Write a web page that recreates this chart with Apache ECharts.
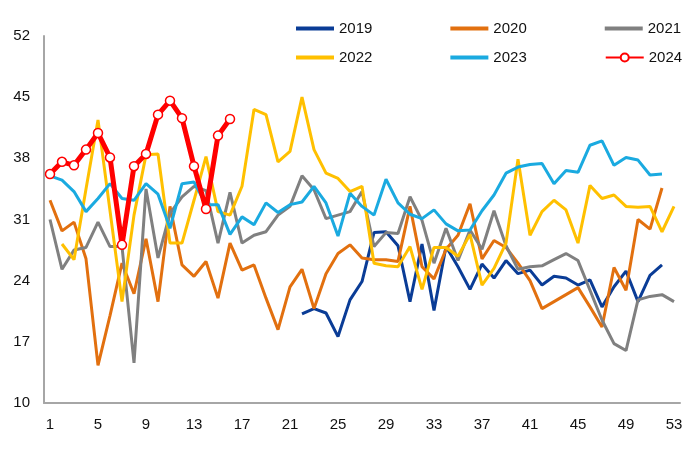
<!DOCTYPE html>
<html>
<head>
<meta charset="utf-8">
<script src="https://cdn.jsdelivr.net/npm/echarts@6/dist/echarts.min.js"></script>
<style>
html,body{margin:0;padding:0;background:#fff;}
#chart{width:700px;height:467px;}
</style>
</head>
<body>
<div id="chart"></div>
<script>
const weeks = Array.from({length: 53}, (_, i) => String(i + 1));
const yTicks = [10, 17, 24, 31, 38, 45, 52];
const seriesNames = ['2019', '2020', '2021', '2022', '2023', '2024'];

const s2019 = [null,null,null,null,null,null,null,null,null,null,
  null,null,null,null,null,null,null,null,null,null,
  null,20.2,20.8,20.3,17.6,21.8,23.9,29.5,29.6,28.0,
  21.6,28.2,20.6,27.9,25.6,23.0,25.9,24.3,26.3,24.8,
  25.2,23.5,24.5,24.3,23.5,24.1,21.0,23.3,25.1,21.6,
  24.6,25.8,null];
const s2020 = [33.2,29.7,30.7,26.5,14.3,20.0,26.0,22.5,28.8,21.6,
  32.5,25.8,24.5,26.2,22.0,28.3,25.2,25.8,22.0,18.4,
  23.3,25.3,20.8,24.8,27.1,28.1,26.6,26.4,26.4,26.2,
  32.5,25.6,24.2,27.6,29.2,32.8,26.5,28.6,27.8,26.0,
  24.0,20.8,21.6,22.4,23.2,21.0,18.7,25.5,22.9,31.0,
  29.9,34.6,null];
const s2021 = [31.0,25.3,27.5,27.8,30.7,27.9,27.9,14.6,34.5,26.6,
  31.7,33.6,34.8,34.3,28.3,34.1,28.3,29.2,29.6,31.5,
  32.5,36.0,34.4,31.1,31.5,31.9,34.2,27.9,29.5,29.4,
  33.6,30.9,26.0,30.0,26.3,29.8,27.6,32.0,28.0,25.3,
  25.6,25.7,26.4,27.1,26.3,22.9,19.5,16.8,16.0,21.8,
  22.2,22.4,21.6];
const s2022 = [null,28.2,26.4,34.5,42.4,32.0,21.6,31.5,38.4,38.5,
  28.3,28.3,33.2,38.2,31.9,31.5,34.8,43.6,43.0,37.6,
  38.8,45.0,39.0,36.3,35.7,34.2,34.8,26.0,25.7,25.6,
  27.9,23.0,27.8,27.8,26.8,29.3,23.5,25.4,28.3,37.9,
  29.2,31.9,33.2,32.1,28.3,34.9,33.4,33.8,32.5,32.4,
  32.5,29.6,32.5];
const s2023 = [36.0,35.5,34.2,31.9,33.4,35.1,33.4,33.2,35.1,33.9,
  30.0,35.1,35.3,32.7,32.7,29.3,31.3,30.4,32.9,31.8,
  32.7,33.0,34.8,32.9,29.1,34.0,32.5,31.5,35.6,32.9,
  31.6,31.1,32.1,30.5,29.7,29.8,32.0,33.8,36.3,37.0,
  37.3,37.4,35.1,36.6,36.4,39.5,40.0,37.2,38.1,37.8,
  36.1,36.2,null];
const s2024 = [36.2,37.6,37.2,39.0,40.9,38.1,28.1,37.1,38.5,43.0,
  44.6,42.6,37.1,32.2,40.6,42.5];

const colors = {
  '2019': '#0A3C96',
  '2020': '#E2700F',
  '2021': '#808080',
  '2022': '#FFC000',
  '2023': '#1AAAE0',
  '2024': '#FF0000'
};
const dataMap = {'2019': s2019, '2020': s2020, '2021': s2021, '2022': s2022, '2023': s2023, '2024': s2024};

const FONT = 'Liberation Sans';
const LINE_ICON = 'path://M0,5H38V9H0Z';

const series = seriesNames.map(name => {
  const is24 = name === '2024';
  return {
    name: name,
    type: 'line',
    data: dataMap[name],
    z: is24 ? 10 : 2,
    smooth: false,
    connectNulls: false,
    symbol: is24 ? 'circle' : 'none',
    symbolSize: is24 ? 9 : 0,
    showSymbol: is24,
    showAllSymbol: true,
    lineStyle: {color: colors[name], width: is24 ? 5 : 3},
    itemStyle: is24 ? {color: '#ffffff', borderColor: colors[name], borderWidth: 1.5} : {color: colors[name]},
    emphasis: {disabled: true},
    animation: false
  };
});

function legendItem(name) {
  if (name === '2024') return {name: name};
  return {name: name, icon: LINE_ICON, itemStyle: {color: colors[name]}};
}

const legendCommon = {
  itemWidth: 38,
  itemHeight: 10,
  itemGap: 78,
  symbolKeepAspect: true,
  textStyle: {fontFamily: FONT, fontSize: 15, color: '#111'},
  selectedMode: false,
  left: 291
};

const chart = echarts.init(document.getElementById('chart'), null, {renderer: 'canvas'});
chart.setOption({
  animation: false,
  backgroundColor: '#ffffff',
  legend: [
    Object.assign({}, legendCommon, {top: 16, data: ['2019', '2020', '2021'].map(legendItem)}),
    Object.assign({}, legendCommon, {top: 45, data: ['2022', '2023', '2024'].map(legendItem)})
  ],
  grid: {left: 44, right: 20, top: 36, bottom: 64, containLabel: false},
  xAxis: {
    type: 'category',
    data: weeks,
    boundaryGap: true,
    axisLine: {lineStyle: {color: '#A6A6A6', width: 2}},
    axisTick: {show: false},
    axisLabel: {interval: 3, margin: 14, fontFamily: FONT, fontSize: 15, color: '#111'},
    splitLine: {show: false}
  },
  yAxis: {
    type: 'value',
    min: yTicks[0],
    max: yTicks[yTicks.length - 1],
    interval: 7,
    axisLine: {show: true, lineStyle: {color: '#A6A6A6', width: 2}},
    axisTick: {show: false},
    axisLabel: {margin: 14, fontFamily: FONT, fontSize: 15, color: '#111'},
    splitLine: {show: false}
  },
  series: series
});
</script>
</body>
</html>
